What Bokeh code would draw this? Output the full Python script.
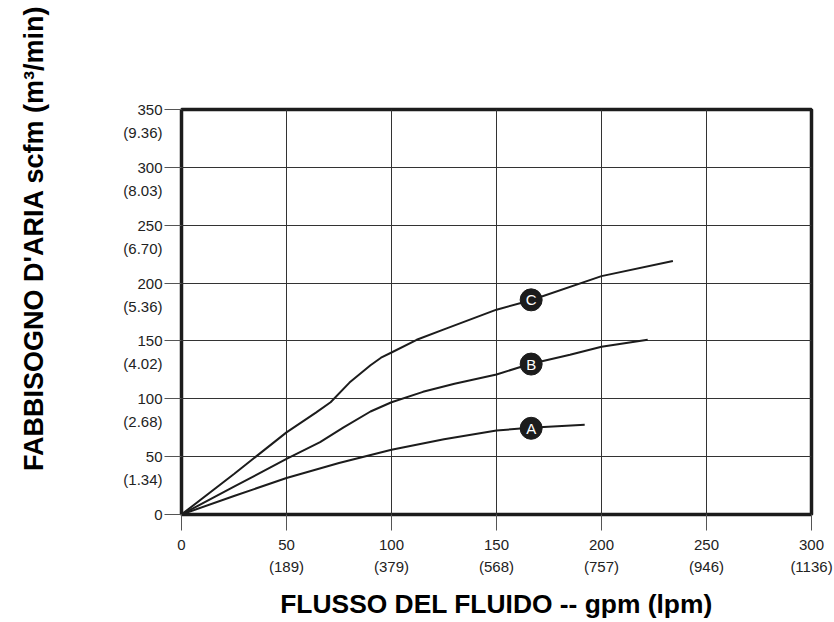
from bokeh.plotting import figure
from bokeh.models import Range1d, FixedTicker, ColumnDataSource, Title
from bokeh.core.properties import value
from bokeh.embed import file_html
from bokeh.resources import INLINE

# ---------------- data ----------------
x_ticks = [0, 50, 100, 150, 200, 250, 300]
x_tick_labels = ["0", "50", "100", "150", "200", "250", "300"]
x_sub_labels = ["", "(189)", "(379)", "(568)", "(757)", "(946)", "(1136)"]

y_ticks = [0, 50, 100, 150, 200, 250, 300, 350]
y_tick_labels = ["0", "50", "100", "150", "200", "250", "300", "350"]
y_sub_labels = ["", "(1.34)", "(2.68)", "(4.02)", "(5.36)", "(6.70)", "(8.03)", "(9.36)"]

a_gpm = [0, 25, 50, 75, 100, 125, 150, 166, 192]
a_scfm = [0, 16, 31.5, 44.5, 56, 65, 72.5, 75, 77.5]

b_gpm = [0, 25, 50, 66, 77, 90, 100, 115, 130, 150, 166, 185, 200, 222]
b_scfm = [0, 24, 48, 62.5, 75, 89, 97, 106, 113, 121, 130, 138, 145, 151]

c_gpm = [0, 25, 50, 64, 71, 80, 90, 95, 100, 112, 125, 150, 166, 200, 234]
c_scfm = [0, 35, 71, 88, 97, 114, 129, 135.5, 140, 151, 160, 177, 185, 206, 219]

curve_names = ["A", "B", "C"]
marker_gpm = [166.5, 166.5, 166.5]
marker_scfm = [74.5, 130, 185.5]

x_title = "FLUSSO DEL FLUIDO -- gpm (lpm)"
y_title = "FABBISOGNO D'ARIA scfm (m\u00b3/min)"

FONT = "Liberation Sans"
INK = "#1c1c1c"


def two_line(main, sub):
    return main if not sub else main + "\n" + sub


# ---------------- figure ----------------
p = figure(width=834, height=622,
           x_range=Range1d(0, 300), y_range=Range1d(0, 350),
           output_backend="svg", toolbar_location=None,
           min_border_left=181, min_border_right=23,
           min_border_top=109, min_border_bottom=108)

p.background_fill_color = "white"
p.border_fill_color = "white"
p.outline_line_color = INK
p.outline_line_width = 3.5
p.outline_line_alpha = 1.0

p.xaxis.ticker = FixedTicker(ticks=x_ticks)
p.yaxis.ticker = FixedTicker(ticks=y_ticks)
p.xgrid.ticker = FixedTicker(ticks=x_ticks)
p.ygrid.ticker = FixedTicker(ticks=y_ticks)

p.xaxis.major_label_overrides = {
    t: two_line(m, s) for t, m, s in zip(x_ticks, x_tick_labels, x_sub_labels)}
# blank first line keeps the main number centred on its tick
p.yaxis.major_label_overrides = {
    t: (m if not s else " \n" + m + "\n" + s)
    for t, m, s in zip(y_ticks, y_tick_labels, y_sub_labels)}

for ax in (p.xaxis, p.yaxis):
    ax.axis_line_color = None
    ax.minor_tick_line_color = None
    ax.major_tick_in = 0
    ax.major_tick_line_color = "#555555"
    ax.major_tick_line_width = 1
    ax.major_label_text_font = FONT
    ax.major_label_text_font_size = "15px"
    ax.major_label_text_color = "#222222"
    ax.major_label_text_line_height = 1.35
p.xaxis.major_label_text_line_height = 1.3
p.xaxis.major_tick_out = 16
p.xaxis.major_label_standoff = 5
p.yaxis.major_tick_out = 17
p.yaxis.major_label_standoff = 2

# x title as the axis label
p.xaxis.axis_label = x_title
p.xaxis.axis_label_standoff = 11
p.xaxis.axis_label_text_font = FONT
p.xaxis.axis_label_text_font_size = "26.4px"
p.xaxis.axis_label_text_font_style = "bold"
p.xaxis.axis_label_text_color = "black"

p.grid.grid_line_color = "#333333"
p.grid.grid_line_width = 1
p.grid.grid_line_alpha = 1.0

# curves
for xs, ys in ((a_gpm, a_scfm), (b_gpm, b_scfm), (c_gpm, c_scfm)):
    p.line(xs, ys, line_color=INK, line_width=2)

# curve markers
msrc = ColumnDataSource(dict(x=marker_gpm, y=marker_scfm, t=curve_names))
p.scatter("x", "y", source=msrc, size=22, marker="circle",
          fill_color=INK, line_color=INK)
p.text("x", "y", text="t", source=msrc, text_color="white",
       text_align="center", text_baseline="middle",
       text_font=value(FONT), text_font_size="15px")

# y title: a blank spacer panel pushes it outward, offset moves it up
p.add_layout(Title(text=" ", text_font_size="2px", standoff=68), "left")
p.add_layout(Title(text=y_title, align="right", offset=-104, standoff=0,
                   vertical_align="bottom",
                   text_font=FONT, text_font_size="27px",
                   text_font_style="bold", text_color="black"), "left")

open("out.html", "w").write(file_html(p, INLINE))
